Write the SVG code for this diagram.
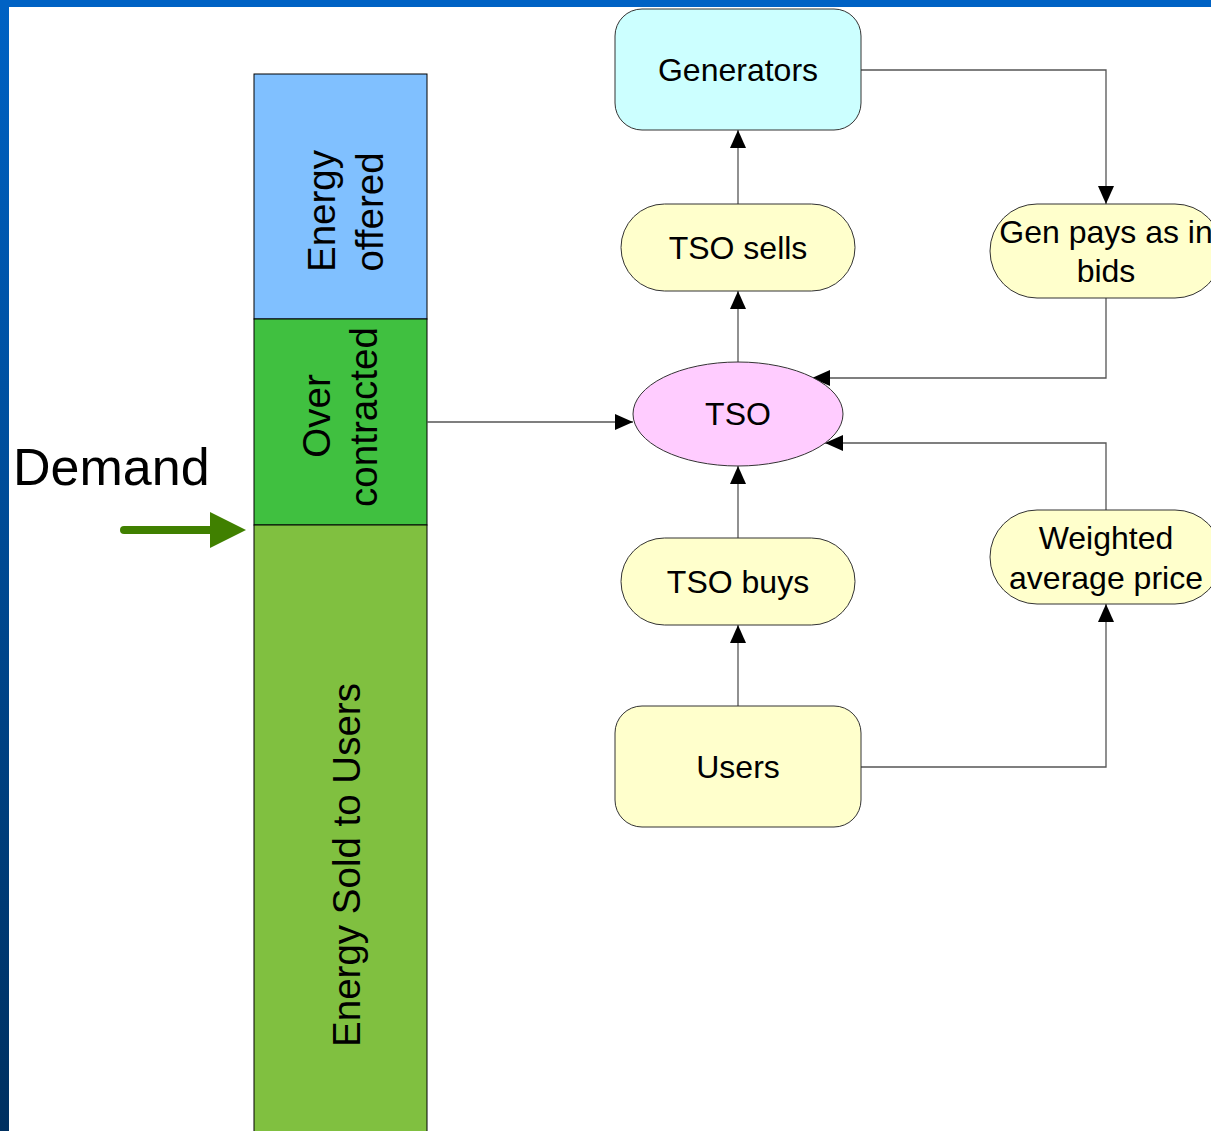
<svg xmlns="http://www.w3.org/2000/svg" width="1211" height="1131" viewBox="0 0 1211 1131">
<defs>
<linearGradient id="side" x1="0" y1="0" x2="0" y2="1">
<stop offset="0" stop-color="#0062c4"/>
<stop offset="1" stop-color="#003060"/>
</linearGradient>
<marker id="ah" markerUnits="userSpaceOnUse" markerWidth="20" markerHeight="18" refX="18" refY="8" orient="auto" viewBox="0 0 20 16">
<path d="M0,0 L18,8 L0,16 Z" fill="#000"/>
</marker>
</defs>
<style>
text{font-family:"Liberation Sans",Arial,sans-serif;fill:#000}
.n{font-size:32px;text-anchor:middle}
.v{font-size:38.5px;text-anchor:middle}
.node{stroke:#333;stroke-width:1}
.c{fill:none;stroke:#555;stroke-width:1.3;marker-end:url(#ah)}
</style>
<rect x="0" y="0" width="1211" height="1131" fill="#fff"/>
<rect x="0" y="0" width="9" height="1131" fill="url(#side)"/>
<rect x="0" y="0" width="1211" height="7" fill="#0062c4"/>

<g id="bar">
<rect x="254" y="74" width="173" height="245" fill="#80c0ff" stroke="#000" stroke-width="1"/>
<rect x="254" y="319" width="173" height="206" fill="#40c040" stroke="#000" stroke-width="1"/>
<rect x="254" y="525" width="173" height="620" fill="#80c040" stroke="#000" stroke-width="1"/>
<text class="v" transform="translate(335,211) rotate(-90)">Energy</text>
<text class="v" transform="translate(383,212) rotate(-90)">offered</text>
<text class="v" transform="translate(330,416) rotate(-90)">Over</text>
<text class="v" transform="translate(377,417) rotate(-90)">contracted</text>
<text class="v" transform="translate(360,865) rotate(-90)">Energy Sold to Users</text>
</g>

<g id="demand">
<text x="13" y="485" style="font-size:52px">Demand</text>
<line x1="124" y1="530" x2="212" y2="530" stroke="#408000" stroke-width="8" stroke-linecap="round"/>
<path d="M210,512 L246,530 L210,548 Z" fill="#408000"/>
</g>

<g id="connectors">
<path class="c" d="M738,204 L738,130"/>
<path class="c" d="M738,362 L738,291"/>
<path class="c" d="M738,538 L738,466"/>
<path class="c" d="M738,706 L738,625"/>
<path class="c" d="M427,422 L633,422"/>
<path class="c" d="M861,70 L1106,70 L1106,204"/>
<path class="c" d="M1106,298 L1106,378 L812,378"/>
<path class="c" d="M1106,510 L1106,443 L825,443"/>
<path class="c" d="M861,767 L1106,767 L1106,604"/>
</g>

<g id="generators">
<rect class="node" x="615" y="9" width="246" height="121" rx="27" fill="#ccffff"/>
<text class="n" x="738" y="81">Generators</text>
</g>
<g id="tso-sells">
<rect class="node" x="621" y="204" width="234" height="87" rx="43.5" fill="#ffffcc"/>
<text class="n" x="738" y="259">TSO sells</text>
</g>
<g id="tso">
<ellipse class="node" cx="738" cy="414" rx="105" ry="52" fill="#ffccff"/>
<text class="n" x="738" y="425">TSO</text>
</g>
<g id="tso-buys">
<rect class="node" x="621" y="538" width="234" height="87" rx="43.5" fill="#ffffcc"/>
<text class="n" x="738" y="593">TSO buys</text>
</g>
<g id="users">
<rect class="node" x="615" y="706" width="246" height="121" rx="27" fill="#ffffcc"/>
<text class="n" x="738" y="778">Users</text>
</g>
<g id="gen-pays">
<rect class="node" x="990" y="204" width="232" height="94" rx="47" fill="#ffffcc"/>
<text class="n" x="1106" y="243">Gen pays as in</text>
<text class="n" x="1106" y="282">bids</text>
</g>
<g id="weighted">
<rect class="node" x="990" y="510" width="232" height="94" rx="47" fill="#ffffcc"/>
<text class="n" x="1106" y="549">Weighted</text>
<text class="n" x="1106" y="589">average price</text>
</g>
</svg>
